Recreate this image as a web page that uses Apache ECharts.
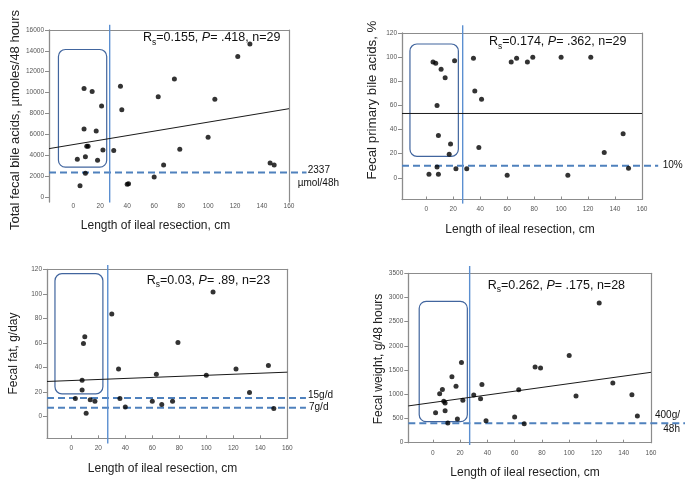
<!DOCTYPE html>
<html><head><meta charset="utf-8">
<script src="https://cdn.jsdelivr.net/npm/echarts@6/dist/echarts.min.js"></script>
<style>html,body{margin:0;padding:0;background:#fff}#c{width:685px;height:487px}</style>
</head><body><div id="c"></div>
<script>
// ---------- shared ----------
const xTickValues = [0, 20, 40, 60, 80, 100, 120, 140, 160];
const resectionCutoff = 27;
const xTitle = 'Length of ileal resection, cm';

// ---------- panel A: total fecal bile acids ----------
const baResection = [3,5,8,8,9,9,10,11,14,17,18,21,22,30,35,36,40,41,60,63,67,75,79,100,105,122,131,146,149];
const baTotal = [3600,1050,10400,6500,3850,2250,4850,4850,10100,6300,3500,8700,4500,4450,10600,8350,1200,1250,1900,9600,3050,11300,4550,5700,9350,13450,14650,3250,3050];
const baTicks = [0,2000,4000,6000,8000,10000,12000,14000,16000];
const baTrend = [[-18, 4620], [160, 8450]];
const baBox = [-11, 2840, 24.8, 14130];
const baCutoffs = [2337];
const baCutoffLabels = ['2337', 'µmol/48h'];
const baStat = ['0.155', '.418', '29'];
const baYTitle = 'Total fecal bile acids, µmoles/48 hours';

// ---------- panel B: fecal primary bile acids ----------
const pbResection = [2,5,7,8,8,9,9,11,14,18,17,21,22,30,35,36,39,41,60,63,67,75,79,100,105,122,132,146,150];
const pbPercent = [3,96,95,60,9,3,35,90,83,28,19.5,97,7.5,7.5,99,72,25,65,2,96,99,96,100,100,2,100,21,36.5,8];
const pbTicks = [0,20,40,60,80,100,120];
const pbTrend = [[-18, 53.3], [160, 53.3]];
const pbBox = [-12.1, 17.8, 23.8, 110.9];
const pbCutoffs = [10];
const pbCutoffLabels = ['10%'];
const pbStat = ['0.174', '.362', '29'];
const pbYTitle = 'Fecal primary bile acids, %';

// ---------- panel C: fecal fat ----------
const ffResection = [3,8,8,9,10,11,14,17.5,30,35,36,40,60,63,67,75,79,100,105,122,132,146,150];
const ffFat = [14.5,21.5,29.5,59.5,65,2.5,13.4,12.3,83.5,38.5,14.5,7.6,12.3,34.4,9.5,12.3,60.3,33.5,101.5,38.5,19.4,41.5,6.3];
const ffTicks = [0,20,40,60,80,100,120];
const ffTrend = [[-18, 28.4], [160, 36]];
const ffBox = [-12.1, 18.3, 23.4, 116.4];
const ffCutoffs = [15, 7];
const ffCutoffLabels = ['15g/d', '7g/d'];
const ffStat = ['0.03', '.89', '23'];
const ffYTitle = 'Fecal fat, g/day';

// ---------- panel D: fecal weight ----------
const fwResection = [2,5,7,8,9,9,11,14,17,18,21,22,30,35,36,39,60,63,67,75,79,100,105,122,132,146,150];
const fwWeight = [620,1010,1100,855,660,820,405,1365,1165,490,1655,875,985,910,1205,455,530,1095,393,1565,1545,1800,965,2885,1235,990,550];
const fwTicks = [0,500,1000,1500,2000,2500,3000,3500];
const fwTrend = [[-18, 760], [160, 1454]];
const fwBox = [-10, 434, 25.3, 2921];
const fwCutoffs = [400];
const fwCutoffLabels = ['400g/', '48h'];
const fwStat = ['0.262', '.175', '28'];
const fwYTitle = 'Fecal weight, g/48 hours';

// ---------- layout ----------
const panels = [
  {x: baResection, y: baTotal, ticks: baTicks, trend: baTrend, box: baBox, cut: baCutoffs, cutLabels: baCutoffLabels, stat: baStat, yTitle: baYTitle,
   yMin: -500, yMax: 16000, cutEnd: 173, vline: [-550, 16500],
   grid: {left: 49, top: 30, width: 240, height: 172}, xMargin: 1, showXLine: false,
   statPos: [143, 29], yTitlePos: [15, 120, 13], xTitlePos: [155.5, 225.7],
   labelPos: [[307.7, 170.7], [297.7, 183.3]]},
  {x: pbResection, y: pbPercent, ticks: pbTicks, trend: pbTrend, box: pbBox, cut: pbCutoffs, cutLabels: pbCutoffLabels, stat: pbStat, yTitle: pbYTitle,
   yMin: -18, yMax: 120, cutEnd: 172, vline: [-21.4, 126.4],
   grid: {left: 402, top: 33, width: 240, height: 166.5}, xMargin: 6, showXLine: true,
   statPos: [489, 33], yTitlePos: [372.3, 100, 13.3], xTitlePos: [520, 229.3],
   labelPos: [[662.7, 165]]},
  {x: ffResection, y: ffFat, ticks: ffTicks, trend: ffTrend, box: ffBox, cut: ffCutoffs, cutLabels: ffCutoffLabels, stat: ffStat, yTitle: ffYTitle,
   yMin: -18, yMax: 120, cutEnd: 173.8, vline: [-22.3, 123.5],
   grid: {left: 47, top: 269.3, width: 240.3, height: 169}, xMargin: 6, showXLine: true,
   statPos: [146.7, 271.6], yTitlePos: [13.3, 353.5, 12], xTitlePos: [162.5, 468.3],
   labelPos: [[308, 395], [309, 407.7]]},
  {x: fwResection, y: fwWeight, ticks: fwTicks, trend: fwTrend, box: fwBox, cut: fwCutoffs, cutLabels: fwCutoffLabels, stat: fwStat, yTitle: fwYTitle,
   yMin: 0, yMax: 3500, cutEnd: 186, vline: [-48, 3651],
   grid: {left: 408.3, top: 273.3, width: 242.7, height: 169.4}, xMargin: 7, showXLine: true,
   statPos: [487.7, 276.6], yTitlePos: [378.3, 359, 12], xTitlePos: [525, 472.3],
   labelPos: [[655, 415.7], [663.3, 429]]}
];

const FONT = 'Liberation Sans';
const AXIS_GREY = '#8c8c8c';
const BLUE_DASH = '#4f81bd';
const BLUE_V = '#5b8fd0';
const BOX_BLUE = '#41659e';
const plain = v => String(v);

function lineItem(color, width, dash) {
  return function (params, api) {
    const a = api.coord([api.value(0), api.value(1)]);
    const b = api.coord([api.value(2), api.value(3)]);
    return {type: 'line', shape: {x1: a[0], y1: a[1], x2: b[0], y2: b[1]},
      style: {stroke: color, lineWidth: width, lineDash: dash || null, fill: null}};
  };
}
function boxItem(params, api) {
  const a = api.coord([api.value(0), api.value(3)]);
  const b = api.coord([api.value(2), api.value(1)]);
  return {type: 'rect', shape: {x: a[0], y: a[1], width: b[0] - a[0], height: b[1] - a[1], r: 7},
    style: {stroke: BOX_BLUE, lineWidth: 1.2, fill: 'none'}};
}

const grid = [], xAxis = [], yAxis = [], series = [], graphic = [];
panels.forEach((p, i) => {
  grid.push(Object.assign({containLabel: false}, p.grid));
  xAxis.push({type: 'value', gridIndex: i, position: 'bottom', min: -18, max: 160,
    axisLine: {show: p.showXLine, onZero: false, lineStyle: {color: AXIS_GREY, width: 1.2}},
    axisTick: {show: p.showXLine, inside: true, length: 3, customValues: xTickValues, lineStyle: {color: AXIS_GREY}},
    axisLabel: {customValues: xTickValues, formatter: plain, fontSize: 6.5, color: '#555', margin: p.xMargin, fontFamily: FONT},
    splitLine: {show: false}});
  xAxis.push({type: 'value', gridIndex: i, position: 'top', min: 0, max: 1,
    axisLine: {show: true, onZero: false, lineStyle: {color: AXIS_GREY, width: 1.2}},
    axisTick: {show: false}, axisLabel: {show: false}, splitLine: {show: false}});
  yAxis.push({type: 'value', gridIndex: i, position: 'left', min: p.yMin, max: p.yMax,
    axisLine: {show: true, onZero: false, lineStyle: {color: AXIS_GREY, width: 1.3}},
    axisTick: {show: true, inside: false, length: 4, customValues: p.ticks, lineStyle: {color: AXIS_GREY}},
    axisLabel: {customValues: p.ticks, formatter: plain, fontSize: 6.5, color: '#555', margin: 5, fontFamily: FONT},
    splitLine: {show: false}});
  yAxis.push({type: 'value', gridIndex: i, position: 'right', min: 0, max: 1,
    axisLine: {show: true, onZero: false, lineStyle: {color: AXIS_GREY, width: 1.2}},
    axisTick: {show: false}, axisLabel: {show: false}, splitLine: {show: false}});

  const xi = 2 * i, yi = 2 * i;
  series.push({type: 'custom', xAxisIndex: xi, yAxisIndex: yi, clip: false, silent: true, z: 1,
    renderItem: boxItem, data: [p.box]});
  series.push({type: 'custom', xAxisIndex: xi, yAxisIndex: yi, clip: false, silent: true, z: 2,
    renderItem: lineItem(BLUE_DASH, 2, [7, 4]), data: p.cut.map(v => [-18, v, p.cutEnd, v])});
  series.push({type: 'custom', xAxisIndex: xi, yAxisIndex: yi, clip: false, silent: true, z: 2,
    renderItem: lineItem(BLUE_V, 1.4), data: [[resectionCutoff, p.vline[0], resectionCutoff, p.vline[1]]]});
  series.push({type: 'line', xAxisIndex: xi, yAxisIndex: yi, silent: true, z: 3, symbol: 'none',
    lineStyle: {color: '#1a1a1a', width: 1}, data: p.trend});
  series.push({type: 'scatter', xAxisIndex: xi, yAxisIndex: yi, z: 4, symbolSize: 5,
    itemStyle: {color: '#000'}, data: p.x.map((v, k) => [v, p.y[k]])});

  graphic.push({type: 'text', left: p.statPos[0], top: p.statPos[1], silent: true,
    style: {text: 'R{s|s}=' + p.stat[0] + ', {i|P}= ' + p.stat[1] + ', n=' + p.stat[2],
      fontFamily: FONT, fontSize: 12.5, lineHeight: 18, fill: '#111',
      rich: {s: {fontFamily: FONT, fontSize: 8.5, lineHeight: 9, verticalAlign: 'bottom', fill: '#111'},
             i: {fontFamily: FONT, fontSize: 12.5, lineHeight: 18, fontStyle: 'italic', fill: '#111'}}}});
  graphic.push({type: 'text', x: p.yTitlePos[0], y: p.yTitlePos[1], rotation: Math.PI / 2, silent: true,
    style: {text: p.yTitle, fontFamily: FONT, fontSize: p.yTitlePos[2], fill: '#222', align: 'center', verticalAlign: 'middle'}});
  graphic.push({type: 'text', x: p.xTitlePos[0], y: p.xTitlePos[1], silent: true,
    style: {text: xTitle, fontFamily: FONT, fontSize: 12, fill: '#222', align: 'center', verticalAlign: 'middle'}});
  p.cutLabels.forEach((t, k) => {
    graphic.push({type: 'text', x: p.labelPos[k][0], y: p.labelPos[k][1], silent: true,
      style: {text: t, fontFamily: FONT, fontSize: 10, fill: '#111', align: 'left', verticalAlign: 'middle'}});
  });
});

const chart = echarts.init(document.getElementById('c'), null, {renderer: 'canvas'});
chart.setOption({animation: false, backgroundColor: '#fff', grid, xAxis, yAxis, series, graphic});
</script></body></html>
